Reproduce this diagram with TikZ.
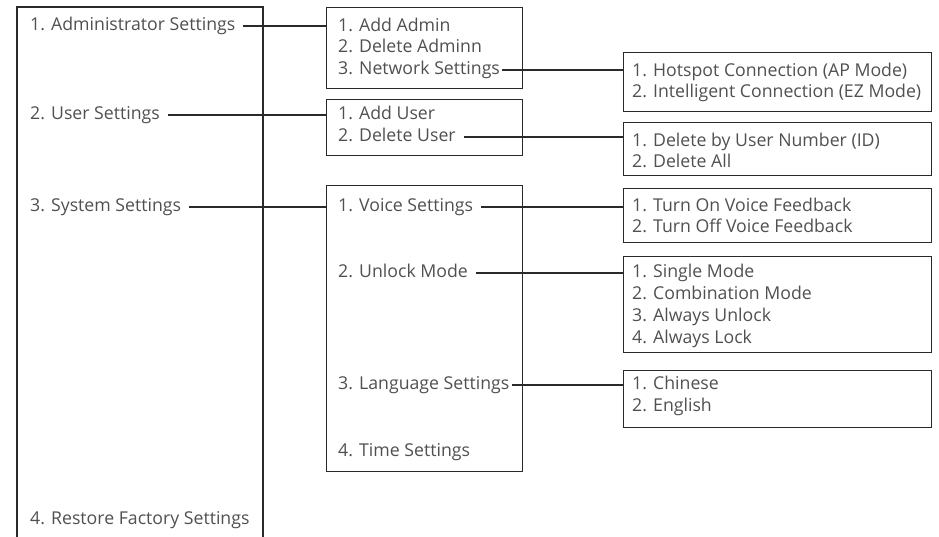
\documentclass[tikz,border=0pt]{standalone}
\usepackage{fontspec}
\setmainfont{Open Sans}
\definecolor{txt}{HTML}{505050}
\definecolor{linec}{HTML}{2A2A2A}
\tikzset{
  item/.style={anchor=west, inner sep=0pt, text=txt, text height=12pt, text depth=4pt,
    font=\fontsize{17.7}{21}\selectfont},
  frame/.style={draw=linec, line width=1.1pt, inner sep=0pt, anchor=north west},
  conn/.style={draw=linec, line width=1.1pt},
}
\begin{document}
\begin{tikzpicture}[x=1pt,y=-1pt]
\useasboundingbox (0,0) rectangle (939,536);
% left open box
\draw[conn] (17,545) -- (17,7) -- (263,7) -- (263,545);
\node[item] (adm) at (30,26) {1. Administrator Settings};
\node[item] (usr) at (30,115) {2. User Settings};
\node[item] (sys) at (30,207) {3. System Settings};
\node[item] (rst) at (30,520) {4. Restore Factory Settings};
% second column boxes
\node[frame, minimum width=196pt, minimum height=81pt] (admbox) at (326,7) {};
\node[frame, minimum width=196pt, minimum height=56pt] (usrbox) at (326,99) {};
\node[frame, minimum width=196pt, minimum height=286pt] (sysbox) at (326,185) {};
\node[item] (a1) at (338,27) {1. Add Admin};
\node[item] (a2) at (338,48.5) {2. Delete Adminn};
\node[item] (a3) at (338,70) {3. Network Settings};
\node[item] (u1) at (338,115.5) {1. Add User};
\node[item] (u2) at (338,137) {2. Delete User};
\node[item] (s1) at (338,207) {1. Voice Settings};
\node[item] (s2) at (338,273) {2. Unlock Mode};
\node[item] (s3) at (338,385) {3. Language Settings};
\node[item] (s4) at (338,452) {4. Time Settings};
% third column boxes
\node[frame, minimum width=308pt, minimum height=59pt] (netbox) at (623,52) {};
\node[frame, minimum width=308pt, minimum height=53pt] (delbox) at (623,122) {};
\node[frame, minimum width=308pt, minimum height=54pt] (voibox) at (623,188) {};
\node[frame, minimum width=308pt, minimum height=96pt] (unlbox) at (623,256) {};
\node[frame, minimum width=308pt, minimum height=57pt] (lanbox) at (623,370) {};
\node[item] (n1) at (632,72) {1. Hotspot Connection (AP Mode)};
\node[item] (n2) at (632,93.5) {2. Intelligent Connection (EZ Mode)};
\node[item] (d1) at (632,142) {1. Delete by User Number (ID)};
\node[item] (d2) at (632,163.5) {2. Delete All};
\node[item] (v1) at (632,207) {1. Turn On Voice Feedback};
\node[item] (v2) at (632,228.5) {2. Turn Off Voice Feedback};
\node[item] (m1) at (632,273) {1. Single Mode};
\node[item] (m2) at (632,295) {2. Combination Mode};
\node[item] (m3) at (632,317) {3. Always Unlock};
\node[item] (m4) at (632,339) {4. Always Lock};
\node[item] (l1) at (632,385) {1. Chinese};
\node[item] (l2) at (632,407) {2. English};
% connectors
\draw[conn] ([xshift=8pt]adm.east) -- (admbox.west |- adm.east);
\draw[conn] ([xshift=8pt]usr.east) -- (usrbox.west |- usr.east);
\draw[conn] ([xshift=8pt]sys.east) -- (sysbox.west |- sys.east);
\draw[conn] ([xshift=2pt]a3.east) -- (netbox.west |- a3.east);
\draw[conn] ([xshift=8pt]u2.east) -- (delbox.west |- u2.east);
\draw[conn] ([xshift=8pt]s1.east) -- (voibox.west |- s1.east);
\draw[conn] ([xshift=8pt]s2.east) -- (unlbox.west |- s2.east);
\draw[conn] ([xshift=2pt]s3.east) -- (lanbox.west |- s3.east);
\end{tikzpicture}
\end{document}
